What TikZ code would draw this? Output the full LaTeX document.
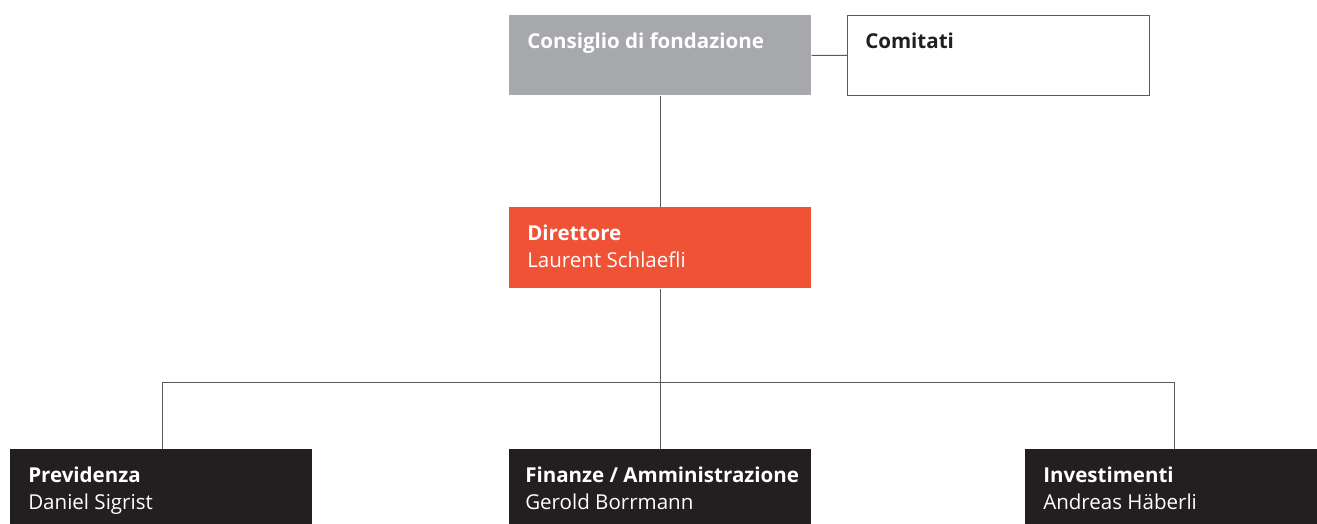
\documentclass[tikz,border=0pt]{standalone}
\usepackage{fontspec}
\setmainfont{Open Sans}
\usetikzlibrary{positioning}
\definecolor{boardgray}{HTML}{A7A8AB}
\definecolor{headorange}{HTML}{F05235}
\definecolor{unitdark}{HTML}{231F20}
\definecolor{linegray}{HTML}{5A5A5A}
\begin{document}
\begin{tikzpicture}[x=0.75pt,y=-0.75pt,
  box/.style={rectangle,inner sep=0pt,minimum width=226.5pt,minimum height=60pt,anchor=north west},
  txt/.style={anchor=north west,inner sep=0pt,align=left,font=\fontsize{15.4}{20.25}\selectfont},
  conn/.style={draw=linegray,line width=0.75pt}]

  \useasboundingbox (0,0) rectangle (1317,524);

  % top row
  \node[box,fill=boardgray] (board) at (509,15){};
  \node[box,draw=linegray,line width=0.75pt] (comm) at (847,15){};
  % director
  \node[box,fill=headorange,minimum height=60.75pt] (dir) at (509,207){};
  % units
  \node[box,fill=unitdark] (prev) at (10,449){};
  \node[box,fill=unitdark] (fin) at (509,449){};
  \node[box,fill=unitdark] (inv) at (1025,449){};

  \node[txt,text=white] (boardtxt) at ([shift={(18pt*0.75,-18pt*0.75)}]board.north west){\textbf{Consiglio di fondazione}};
  \node[txt,text=unitdark] (commtxt) at ([shift={(18pt*0.75,-18pt*0.75)}]comm.north west){\textbf{Comitati}};
  \node[txt,text=white] (dirtxt) at ([shift={(18pt*0.75,-18pt*0.75)}]dir.north west){\textbf{Direttore}\\Laurent Schlaefli};
  \node[txt,text=white] (prevtxt) at ([shift={(18pt*0.75,-18pt*0.75)}]prev.north west){\textbf{Previdenza}\\Daniel Sigrist};
  \node[txt,text=white] (fintxt) at ([shift={(16pt*0.75,-18pt*0.75)}]fin.north west){\textbf{Finanze / Amministrazione}\\Gerold Borrmann};
  \node[txt,text=white] (invtxt) at ([shift={(18pt*0.75,-18pt*0.75)}]inv.north west){\textbf{Investimenti}\\Andreas Häberli};

  \coordinate (split) at (661,382.5);
  \path[conn]
    (board.east) edge (comm.west)
    (board.south) edge (dir.north)
    (dir.south) edge (fin.north);
  \draw[conn] (prev.north -| 162,0) |- (split) -| (inv.north -| 1174,0);
\end{tikzpicture}
\end{document}
